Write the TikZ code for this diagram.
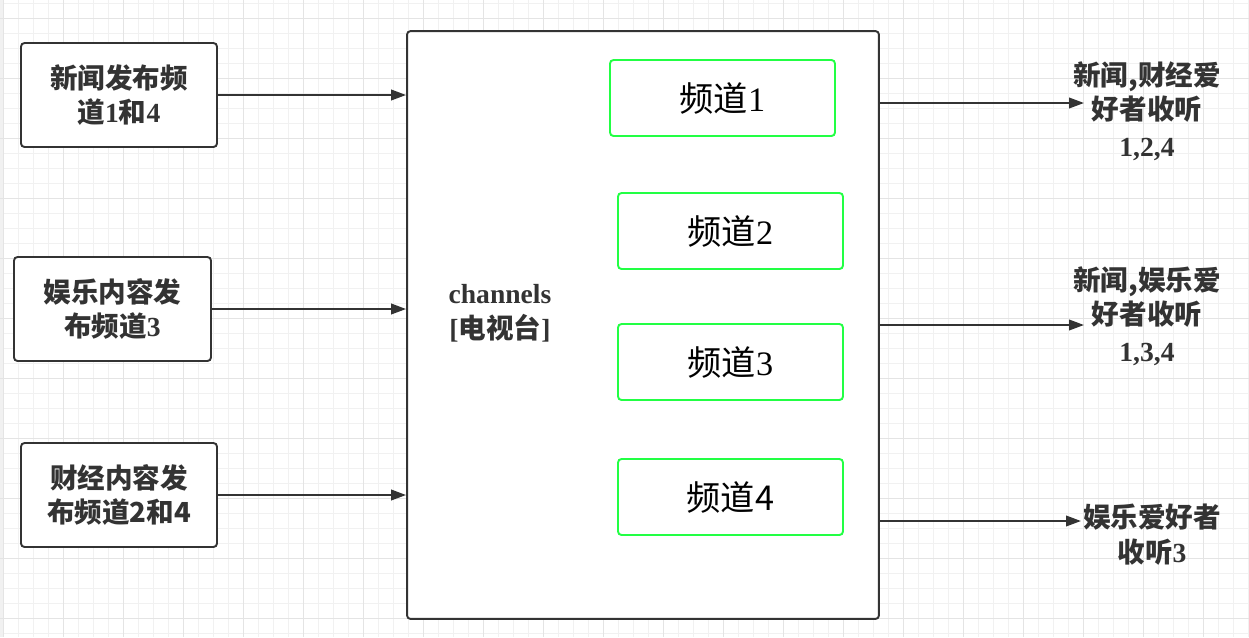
\documentclass[tikz,border=0pt]{standalone}
\usepackage{fontspec}
\setmainfont{Liberation Serif}
\newfontfamily\cjk{Noto Sans CJK SC}
\newcommand{\zh}[1]{{\cjk #1}}
\usetikzlibrary{arrows.meta,positioning}
\definecolor{inkgrey}{HTML}{333333}
\definecolor{gridminor}{HTML}{F1F1F1}
\definecolor{gridmajor}{HTML}{E4E4E4}
\definecolor{chgreen}{HTML}{22FF44}

\begin{document}
\begin{tikzpicture}[x=0.02cm,y=-0.02cm,
		src/.style={draw=inkgrey,line width=1.1pt,rounded corners=2pt,fill=white,minimum width=3.92cm,minimum height=2.08cm,align=center,text=inkgrey,inner sep=0pt,font=\fontsize{15.7}{19.8}\selectfont\bfseries},
		chan/.style={draw=chgreen,line width=1.1pt,rounded corners=2pt,fill=white,minimum width=4.5cm,minimum height=1.52cm,inner sep=0pt,font=\fontsize{19.5}{24}\selectfont},
		listener/.style={align=center,text=inkgrey,inner sep=0pt,font=\fontsize{15.7}{19.8}\selectfont\bfseries},
		arr/.style={-{Triangle[length=8.5pt,width=6pt]},line width=1.1pt,inkgrey}
		]
		\useasboundingbox (0,0) rectangle (1249,637);
		% grid paper
		\fill[white] (0,0) rectangle (1249,637);
		\fill[gridminor] (0,0) rectangle (3,637);
		\foreach \gx in {3,18,...,1248} \draw[gridminor,line width=0.55pt] (\gx,0) -- (\gx,637);
		\foreach \gy in {3,18,...,636} \draw[gridminor,line width=0.55pt] (0,\gy) -- (1249,\gy);
		\foreach \gx in {3,63,...,1248} \draw[gridmajor,line width=0.55pt] (\gx,0) -- (\gx,637);
		\foreach \gy in {18,78,...,636} \draw[gridmajor,line width=0.55pt] (0,\gy) -- (1249,\gy);

		% publishers
		\node[src] (news) at (119,95) {\zh{新闻发布频}\\\zh{道}1\zh{和}4};
		\node[src,minimum width=3.94cm] (fun) at (112.5,309) {\zh{娱乐内容发}\\\zh{布频道}3};
		\node[src] (fin) at (119,495) {\zh{财经内容发}\\\zh{布频道2和4}};

		% channels
		\node[draw=inkgrey,line width=1.1pt,rounded corners=2pt,fill=white,minimum width=9.44cm,minimum height=11.76cm] (tv) at (643,325) {};
		\node[listener] (tvname) at (500,313) {channels\\{[}\zh{电视台}]};
		\node[chan] (c1) at (722.5,98) {\zh{频道}1};
		\node[chan] (c2) at (730.5,231) {\zh{频道}2};
		\node[chan] (c3) at (730.5,362) {\zh{频道}3};
		\node[chan] (c4) at (730.5,497) {\zh{频道4}};

		% subscribers
		\node[listener] (sub1) at (1147,111) {\zh{新闻,财经爱}\\\zh{好者收听}\\[1pt]1,2,4};
		\node[listener] (sub2) at (1147,316) {\zh{新闻,娱乐爱}\\\zh{好者收听}\\[1pt]1,3,4};
		\node[listener] (sub3) at (1152,535) {\zh{娱乐爱好者}\\\zh{收听}3};
		\coordinate (in1) at (1084,103);
		\coordinate (in2) at (1084,325);
		\coordinate (in3) at (1081,521);

		\draw[arr] (news.east) -- (news.east -| tv.west);
		\draw[arr] (fun.east) -- (fun.east -| tv.west);
		\draw[arr] (fin.east) -- (fin.east -| tv.west);
		\draw[arr] (in1 -| tv.east) -- (in1);
		\draw[arr] (in2 -| tv.east) -- (in2);
		\draw[arr] (in3 -| tv.east) -- (in3);
	\end{tikzpicture}
\end{document}
